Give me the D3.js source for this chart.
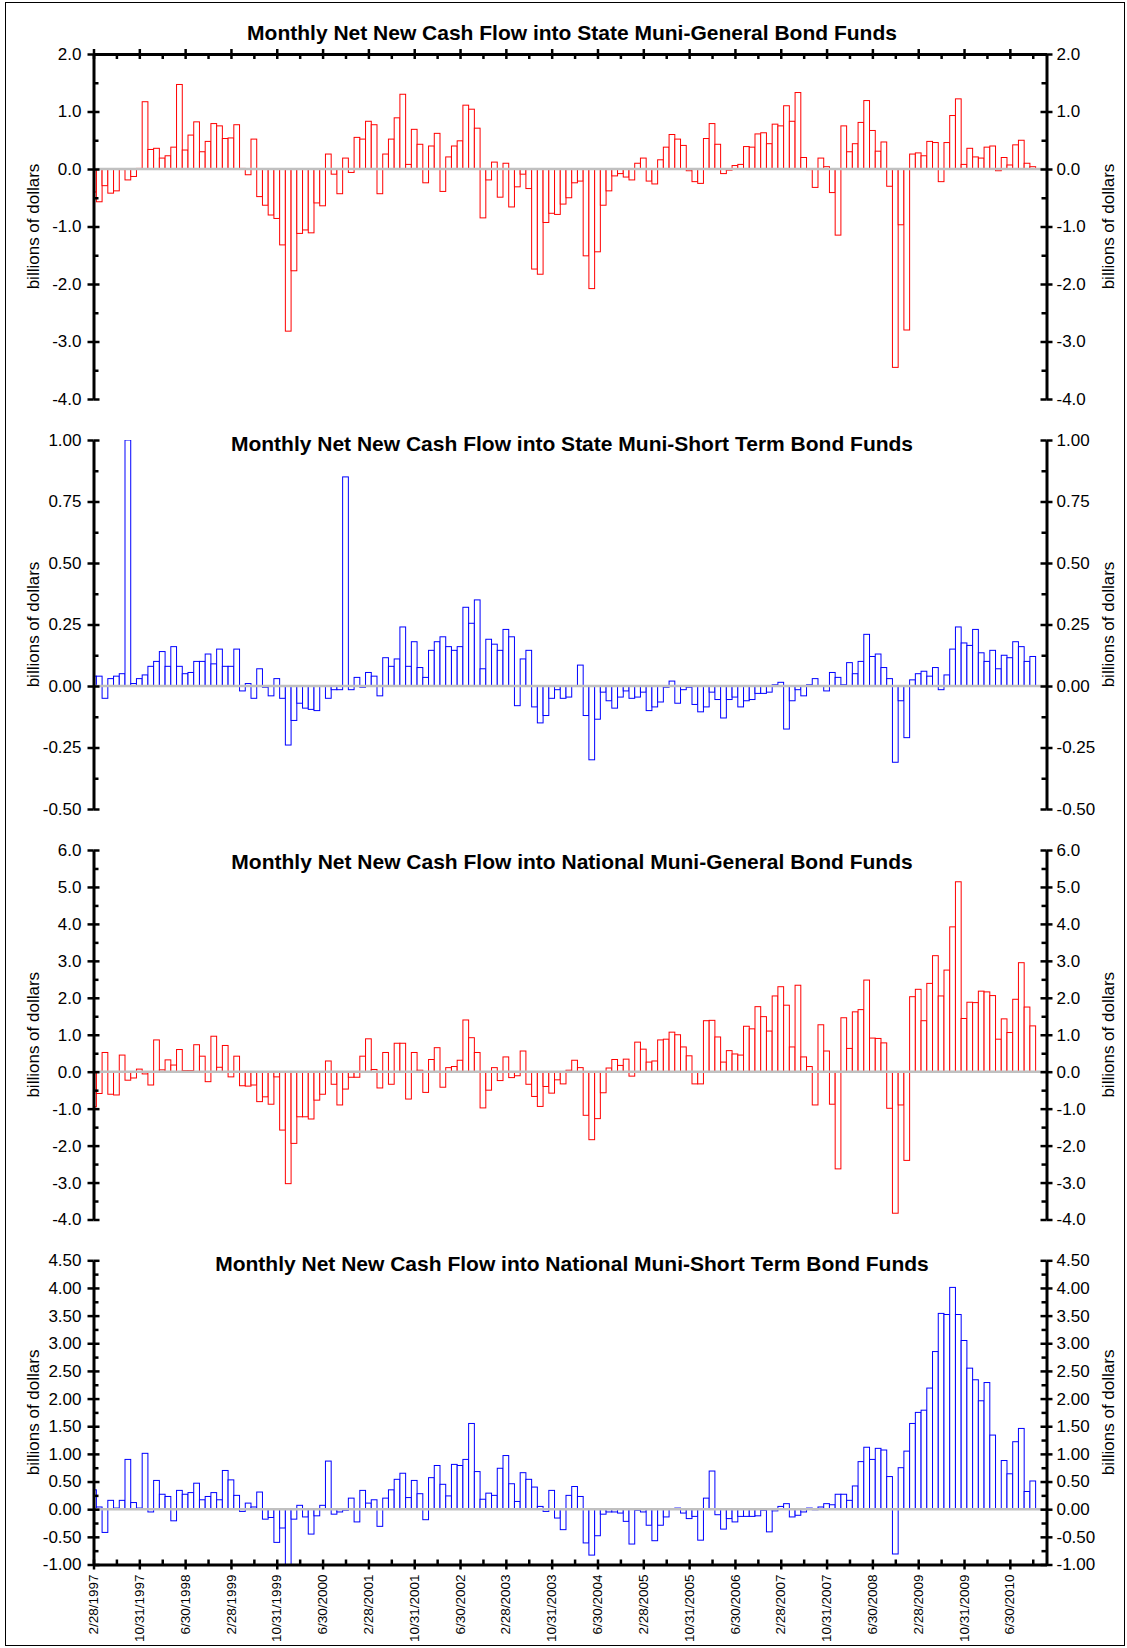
<!DOCTYPE html>
<html>
<head>
<meta charset="utf-8">
<script src="https://cdn.jsdelivr.net/npm/d3@7/dist/d3.min.js"></script>
<style>
  body { margin: 0; background: #fff; }
  svg { display: block; font-family: Arial, "Liberation Sans", sans-serif; }
</style>
</head>
<body>
<div id="grafico"></div>
<script>
// Month-end labels, one every 8 months starting 2/28/1997
const dateLabels = ["2/28/1997", "10/31/1997", "6/30/1998", "2/28/1999", "10/31/1999", "6/30/2000",
  "2/28/2001", "10/31/2001", "6/30/2002", "2/28/2003", "10/31/2003", "6/30/2004", "2/28/2005",
  "10/31/2005", "6/30/2006", "2/28/2007", "10/31/2007", "6/30/2008", "2/28/2009", "10/31/2009", "6/30/2010"]

// billions of dollars, monthly, 2/1997 .. 10/2010
const stateGeneral = [
  -0.40, -0.57, -0.29, -0.42, -0.38, -0.01, -0.19, -0.13, 0.01, 1.17,
  0.34, 0.36, 0.19, 0.23, 0.38, 1.47, 0.33, 0.59, 0.82, 0.30,
  0.48, 0.79, 0.75, 0.53, 0.54, 0.77, 0.01, -0.10, 0.52, -0.48,
  -0.63, -0.80, -0.86, -1.32, -2.82, -1.77, -1.12, -1.06, -1.11, -0.59,
  -0.64, 0.26, -0.09, -0.43, 0.19, -0.06, 0.55, 0.52, 0.83, 0.77,
  -0.43, 0.26, 0.52, 0.89, 1.30, 0.08, 0.69, 0.43, -0.24, 0.40,
  0.62, -0.39, 0.21, 0.40, 0.49, 1.11, 1.04, 0.71, -0.85, -0.19,
  0.12, -0.49, 0.10, -0.66, -0.31, -0.09, -0.34, -1.74, -1.83, -0.93,
  -0.77, -0.79, -0.61, -0.50, -0.24, -0.21, -1.51, -2.08, -1.44, -0.63,
  -0.38, -0.12, -0.08, -0.14, -0.19, 0.10, 0.19, -0.21, -0.26, 0.16,
  0.38, 0.60, 0.52, 0.41, -0.03, -0.22, -0.25, 0.53, 0.79, 0.43,
  -0.08, -0.02, 0.06, 0.08, 0.39, 0.38, 0.61, 0.63, 0.44, 0.78,
  0.75, 1.10, 0.83, 1.33, 0.20, -0.01, -0.32, 0.19, 0.04, -0.41,
  -1.15, 0.75, 0.30, 0.44, 0.81, 1.19, 0.67, 0.31, 0.47, -0.30,
  -3.45, -0.97, -2.80, 0.26, 0.28, 0.23, 0.48, 0.46, -0.22, 0.46,
  0.93, 1.22, 0.08, 0.36, 0.21, 0.19, 0.38, 0.40, -0.03, 0.20,
  0.07, 0.42, 0.50, 0.10, 0.04
]

const stateShort = [
  0.04, 0.04, -0.05, 0.03, 0.04, 0.05, 1.00, 0.01, 0.03, 0.045,
  0.08, 0.10, 0.14, 0.08, 0.16, 0.08, 0.05, 0.055, 0.10, 0.10,
  0.13, 0.09, 0.15, 0.08, 0.08, 0.15, -0.02, 0.01, -0.05, 0.07,
  -0.005, -0.04, 0.03, -0.05, -0.24, -0.14, -0.07, -0.09, -0.095, -0.10,
  0.0, -0.05, -0.015, -0.015, 0.85, -0.015, 0.035, -0.005, 0.055, 0.04,
  -0.04, 0.115, 0.08, 0.11, 0.24, 0.08, 0.18, 0.075, 0.035, 0.145,
  0.18, 0.20, 0.16, 0.145, 0.16, 0.32, 0.255, 0.35, 0.07, 0.19,
  0.17, 0.145, 0.23, 0.20, -0.08, 0.11, 0.145, -0.085, -0.15, -0.12,
  -0.05, -0.015, -0.05, -0.045, 0.002, 0.085, -0.12, -0.30, -0.135, -0.025,
  -0.06, -0.09, -0.045, -0.02, -0.05, -0.045, -0.025, -0.10, -0.085, -0.065,
  -0.005, 0.02, -0.07, -0.015, -0.005, -0.075, -0.105, -0.085, -0.025, -0.055,
  -0.13, -0.055, -0.045, -0.085, -0.06, -0.055, -0.03, -0.03, -0.025, 0.005,
  0.015, -0.175, -0.06, -0.015, -0.04, 0.005, 0.03, 0.0, -0.02, 0.055,
  0.035, 0.005, 0.095, 0.05, 0.10, 0.21, 0.12, 0.13, 0.075, 0.03,
  -0.31, -0.06, -0.21, 0.025, 0.05, 0.06, 0.04, 0.075, -0.015, 0.045,
  0.15, 0.24, 0.175, 0.165, 0.23, 0.135, 0.10, 0.145, 0.07, 0.125,
  0.115, 0.18, 0.16, 0.10, 0.12
]

const nationalGeneral = [
  -0.95, -0.59, 0.52, -0.61, -0.63, 0.45, -0.23, -0.17, 0.07, -0.06,
  -0.36, 0.86, 0.05, 0.32, 0.18, 0.60, 0.03, 0.03, 0.73, 0.42,
  -0.27, 0.96, 0.12, 0.71, -0.14, 0.42, -0.38, -0.39, -0.36, -0.81,
  -0.68, -0.88, -0.14, -1.58, -3.03, -1.94, -1.22, -1.22, -1.28, -0.77,
  -0.61, 0.29, -0.34, -0.90, -0.47, -0.15, -0.15, 0.42, 0.89, 0.06,
  -0.44, 0.52, -0.34, 0.77, 0.77, -0.74, 0.52, 0.04, -0.56, 0.33,
  0.65, -0.42, 0.11, 0.14, 0.31, 1.40, 0.92, 0.52, -0.98, -0.50,
  0.11, -0.24, 0.40, -0.16, -0.11, 0.56, -0.34, -0.67, -0.94, -0.40,
  -0.58, -0.22, -0.33, 0.04, 0.31, 0.11, -1.18, -1.84, -1.27, -0.57,
  0.10, 0.33, 0.17, 0.34, -0.12, 0.80, 0.61, 0.26, 0.29, 0.86,
  0.88, 1.07, 1.00, 0.67, 0.43, -0.33, -0.33, 1.38, 1.39, 0.94,
  0.26, 0.57, 0.48, 0.45, 1.23, 1.16, 1.76, 1.49, 1.10, 2.05,
  2.30, 1.80, 0.67, 2.34, 0.40, 0.14, -0.90, 1.27, 0.56, -0.88,
  -2.63, 1.46, 0.63, 1.62, 1.68, 2.48, 0.91, 0.90, 0.78, -0.99,
  -3.83, -0.90, -2.40, 2.03, 2.23, 1.38, 2.39, 3.14, 2.05, 2.75,
  3.92, 5.14, 1.44, 1.88, 1.87, 2.18, 2.16, 2.06, 0.88, 1.43,
  1.06, 1.96, 2.95, 1.75, 1.24
]

const nationalShort = [
  0.35, 0.04, -0.42, 0.16, 0.02, 0.16, 0.90, 0.12, 0.02, 1.01,
  -0.05, 0.52, 0.27, 0.23, -0.21, 0.34, 0.27, 0.30, 0.47, 0.17,
  0.23, 0.30, 0.17, 0.70, 0.53, 0.25, -0.04, 0.11, 0.04, 0.31,
  -0.18, -0.15, -0.60, -0.34, -1.20, -0.18, 0.07, -0.14, -0.45, -0.12,
  0.07, 0.87, -0.09, -0.05, -0.02, 0.20, -0.23, 0.34, 0.11, 0.17,
  -0.31, 0.20, 0.35, 0.54, 0.65, 0.21, 0.52, 0.28, -0.19, 0.57,
  0.79, 0.45, 0.24, 0.81, 0.79, 0.90, 1.55, 0.68, 0.18, 0.29,
  0.25, 0.74, 0.97, 0.46, 0.14, 0.66, 0.54, 0.40, 0.05, -0.04,
  0.34, -0.16, -0.37, 0.25, 0.41, 0.23, -0.61, -0.83, -0.48, -0.09,
  -0.05, -0.05, -0.07, -0.22, -0.63, -0.02, -0.05, -0.29, -0.57, -0.29,
  -0.14, 0.0, 0.02, -0.07, -0.17, -0.13, -0.56, 0.20, 0.69, -0.10,
  -0.36, -0.17, -0.23, -0.13, -0.13, -0.13, -0.12, -0.02, -0.41, -0.03,
  0.05, 0.10, -0.14, -0.11, -0.05, 0.02, -0.01, 0.04, 0.10, 0.08,
  0.27, 0.27, 0.16, 0.42, 0.86, 1.12, 0.90, 1.10, 1.07, 0.59,
  -0.81, 0.75, 1.05, 1.55, 1.75, 1.79, 2.19, 2.85, 3.54, 3.52,
  4.01, 3.52, 3.05, 2.55, 2.34, 1.96, 2.29, 1.34, 0.0, 0.88,
  0.64, 1.22, 1.46, 0.32, 0.51
]

const width = 1127, height = 1648
const fontFam = "Arial, 'Liberation Sans', sans-serif"

// numeros com hifen normal no lugar do sinal de menos unicode
const loc = d3.formatLocale({decimal: ".", thousands: ",", grouping: [3], currency: ["$", ""], minus: "-"})

const svg = d3.select("#grafico")
  .append("svg")
    .attr("width", width)
    .attr("height", height)

// moldura
svg.append("rect")
  .attr("x", 5.5).attr("y", 2.5)
  .attr("width", 1119).attr("height", 1643)
  .attr("fill", "none").attr("stroke", "#000").attr("stroke-width", 1)

// eixo x comum (indice do mes)
const x = d3.scaleLinear()
  .domain([0, 166.4])
  .range([93.5, 1046.5])
const bw = x(1) - x(0)
const majorX = dateLabels.map((d, i) => i * 8)
const minorX = dateLabels.map((d, i) => i * 8 + 4)

const panels = [
  {title: "Monthly Net New Cash Flow into State Muni-General Bond Funds", values: stateGeneral,
   color: "#ff0000", domain: [-4, 2], step: 1, fmt: ".1f", top: 54, bottom: 399, titleY: 39.5, axis: "top"},
  {title: "Monthly Net New Cash Flow into State Muni-Short Term Bond Funds", values: stateShort,
   color: "#0000ff", domain: [-0.5, 1], step: 0.25, fmt: ".2f", top: 440, bottom: 809, titleY: 450.5},
  {title: "Monthly Net New Cash Flow into National Muni-General Bond Funds", values: nationalGeneral,
   color: "#ff0000", domain: [-4, 6], step: 1, fmt: ".1f", top: 850, bottom: 1219.5, titleY: 869},
  {title: "Monthly Net New Cash Flow into National Muni-Short Term Bond Funds", values: nationalShort,
   color: "#0000ff", domain: [-1, 4.5], step: 0.5, fmt: ".2f", top: 1260.3, bottom: 1564.5, titleY: 1270.5, axis: "bottom"}
]

function styleAxis(g) {
  g.select(".domain").attr("stroke", "#000").attr("stroke-width", 3)
  g.selectAll(".tick line").attr("stroke", "#000").attr("stroke-width", 2.5)
  g.selectAll(".tick text").attr("fill", "#000")
}

panels.forEach((p, k) => {
  const y = d3.scaleLinear().domain(p.domain).range([p.bottom, p.top])
  const nMaj = Math.round((p.domain[1] - p.domain[0]) / p.step)
  const majors = d3.range(nMaj + 1).map(j => p.domain[0] + j * p.step)
  const minors = d3.range(nMaj).map(j => p.domain[0] + (j + 0.5) * p.step)
  const g = svg.append("g")

  g.append("clipPath").attr("id", "clip" + k)
    .append("rect")
      .attr("x", x(0)).attr("y", p.top)
      .attr("width", x(166.4) - x(0)).attr("height", p.bottom - p.top)

  // barras
  g.append("g")
    .attr("clip-path", `url(#clip${k})`)
    .selectAll("rect")
    .data(p.values)
    .join("rect")
      .attr("x", (d, i) => x(i) - bw / 2)
      .attr("y", d => y(Math.max(0, d)))
      .attr("width", bw)
      .attr("height", d => Math.abs(y(d) - y(0)))
      .attr("fill", "#fff")
      .attr("stroke", p.color)
      .attr("stroke-width", 1)

  // linha do zero
  g.append("line")
    .attr("x1", x(0)).attr("x2", x(166.4))
    .attr("y1", y(0)).attr("y2", y(0))
    .attr("stroke", "#c0c0c0").attr("stroke-width", 2.5)

  // eixo y esquerdo
  const yl = g.append("g").attr("transform", `translate(${x(0)},0)`)
  yl.call(d3.axisLeft(y).tickValues(majors).tickFormat(loc.format(p.fmt))
    .tickSizeInner(6).tickSizeOuter(0).tickPadding(6))
  yl.append("g").call(d3.axisRight(y).tickValues(majors).tickFormat("").tickSize(6)).call(g2 => g2.select(".domain").remove())
  yl.append("g").call(d3.axisRight(y).tickValues(minors).tickFormat("").tickSize(5)).call(g2 => g2.select(".domain").remove())
  yl.call(styleAxis)
  yl.selectAll("text").attr("font-size", "17px").attr("font-family", fontFam)

  // eixo y direito
  const yr = g.append("g").attr("transform", `translate(${x(166.4)},0)`)
  yr.call(d3.axisRight(y).tickValues(majors).tickFormat(loc.format(p.fmt))
    .tickSizeInner(6).tickSizeOuter(0).tickPadding(4))
  yr.append("g").call(d3.axisLeft(y).tickValues(majors).tickFormat("").tickSize(6)).call(g2 => g2.select(".domain").remove())
  yr.append("g").call(d3.axisLeft(y).tickValues(minors).tickFormat("").tickSize(5)).call(g2 => g2.select(".domain").remove())
  yr.call(styleAxis)
  yr.selectAll("text").attr("font-size", "17px").attr("font-family", fontFam)

  // eixo x (so no primeiro e no ultimo painel)
  if (p.axis === "top") {
    const xt = g.append("g").attr("transform", `translate(0,${p.top})`)
    xt.call(d3.axisTop(x).tickValues(majorX).tickFormat("").tickSizeInner(5).tickSizeOuter(0))
    xt.append("g").call(d3.axisBottom(x).tickValues(majorX).tickFormat("").tickSize(5)).call(g2 => g2.select(".domain").remove())
    xt.append("g").call(d3.axisBottom(x).tickValues(minorX).tickFormat("").tickSize(5)).call(g2 => g2.select(".domain").remove())
    xt.call(styleAxis)
  }
  if (p.axis === "bottom") {
    const xb = g.append("g").attr("transform", `translate(0,${p.bottom})`)
    xb.call(d3.axisBottom(x).tickValues(majorX).tickFormat((d, i) => dateLabels[i])
      .tickSizeInner(5).tickSizeOuter(0))
    xb.append("g").call(d3.axisTop(x).tickValues(majorX).tickFormat("").tickSize(5)).call(g2 => g2.select(".domain").remove())
    xb.append("g").call(d3.axisTop(x).tickValues(minorX).tickFormat("").tickSize(5)).call(g2 => g2.select(".domain").remove())
    xb.call(styleAxis)
    xb.selectAll(".tick text")
      .attr("transform", "rotate(-90)")
      .attr("text-anchor", "end")
      .attr("x", -10).attr("y", 0).attr("dy", "0.3em")
      .attr("font-size", "13.5px").attr("font-family", fontFam)
  }

  // titulo
  g.append("text")
    .attr("x", 572).attr("y", p.titleY)
    .attr("text-anchor", "middle")
    .attr("font-size", "21px").attr("font-weight", "bold")
    .text(p.title)

  // rotulos dos eixos y
  const cy = (p.top + p.bottom) / 2
  g.append("text")
    .attr("transform", `translate(39,${cy}) rotate(-90)`)
    .attr("text-anchor", "middle").attr("font-size", "17px")
    .text("billions of dollars")
  g.append("text")
    .attr("transform", `translate(1114,${cy}) rotate(-90)`)
    .attr("text-anchor", "middle").attr("font-size", "17px")
    .text("billions of dollars")
})
</script>
</body>
</html>
